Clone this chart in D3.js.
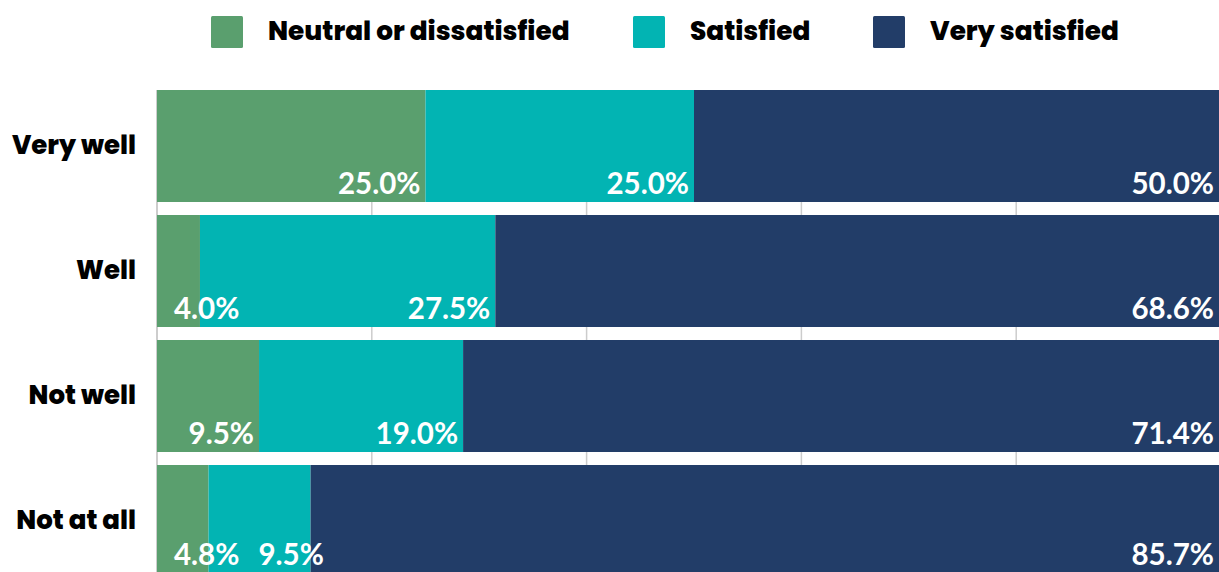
<!DOCTYPE html>
<html><head><meta charset="utf-8">
<script src="https://cdn.jsdelivr.net/npm/d3@7"></script>
<style>
html,body{margin:0;padding:0;background:#fff;overflow:hidden;}
svg{display:block;}
</style></head>
<body>
<svg id="chart" width="1219" height="572"></svg>
<script>
const categories = ["Very well", "Well", "Not well", "Not at all"];
const seriesNames = ["Neutral or dissatisfied", "Satisfied", "Very satisfied"];
const neutral = [25.0, 4.0, 9.5, 4.8];
const satisfied = [25.0, 27.5, 19.0, 9.5];
const verySatisfied = [50.0, 68.6, 71.4, 85.7];
const xTicks = [0, 20, 40, 60, 80, 100];
const colors = ["#5a9f6e", "#02b4b3", "#223d68"];

const W = 1219, H = 572;
const svg = d3.select("#chart");
const headFont = "Poppins, 'Inter', sans-serif";
const valFont = "Lato, sans-serif";

const rows = categories.map((c, i) => ({cat: c, vals: [neutral[i], satisfied[i], verySatisfied[i]]}));
const x = d3.scaleLinear().domain([0, 100]).range([157, 1231]);
const y = d3.scaleBand().domain(categories).range([83.5, 583.5]).paddingInner(0.104).paddingOuter(0.052);

// gridlines
svg.append("g").selectAll("line").data(xTicks).join("line")
  .attr("x1", d => x(d)).attr("x2", d => x(d))
  .attr("y1", y(categories[0])).attr("y2", H)
  .attr("stroke", d => d === 0 ? "#bdbdbd" : "#cccccc").attr("stroke-width", 1.5);

const stackData = rows.map(r => {
  let acc = 0;
  return r.vals.map((v, k) => { const s = acc; acc += v; return {cat: r.cat, k, v, x0: s, x1: acc}; });
});

// bars
const gBars = svg.append("g");
stackData.forEach(segs => {
  gBars.selectAll(null).data(segs).join("rect")
    .attr("x", d => x(d.x0))
    .attr("y", d => y(d.cat))
    .attr("width", d => x(d.x1) - x(d.x0))
    .attr("height", y.bandwidth())
    .attr("fill", d => colors[d.k]);
});

// value labels
const gLab = svg.append("g");
stackData.forEach(segs => {
  let prevRight = x(0) + 17;
  segs.forEach(d => {
    const t = gLab.append("text")
      .attr("y", Math.min(y(d.cat) + y.bandwidth() - 8.5, H - 7))
      .attr("text-anchor", "end")
      .attr("fill", "#fff")
      .attr("font-family", valFont)
      .attr("font-weight", 700)
      .attr("font-size", 29.5)
      .text(d.v.toFixed(1) + "%");
    const w = t.node().getComputedTextLength();
    let right = Math.min(x(d.x1), W) - 5;
    const minRight = prevRight + (d.k === 0 ? 0 : 19) + w;
    if (right < minRight) right = minRight;
    t.attr("x", right);
    prevRight = right;
  });
});

// category labels
svg.append("g").selectAll("text").data(categories).join("text")
  .attr("x", 136)
  .attr("y", d => y(d) + y.bandwidth() / 2 + 7.5)
  .attr("text-anchor", "end")
  .attr("font-family", headFont)
  .attr("font-weight", 800)
  .attr("font-size", 26)
  .attr("fill", "#000")
  .text(d => d);

// legend
const legX = [211, 633, 873];
const leg = svg.append("g").selectAll("g").data(seriesNames).join("g")
  .attr("transform", (d, i) => `translate(${legX[i]},16)`);
leg.append("rect").attr("width", 32).attr("height", 32).attr("rx", 1.5)
  .attr("fill", (d, i) => colors[i]);
leg.append("text").attr("x", 57).attr("y", 23.5)
  .attr("font-family", headFont).attr("font-weight", 800).attr("font-size", 26.3)
  .attr("fill", "#000").text(d => d);
</script>
</body></html>
